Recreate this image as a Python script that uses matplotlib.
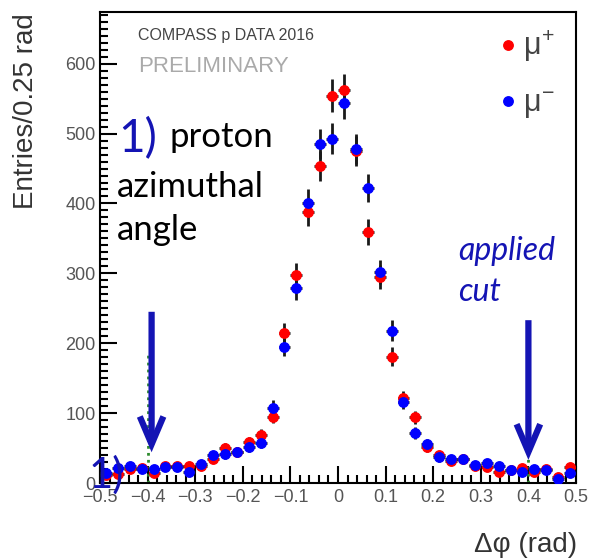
import numpy as np
import matplotlib
matplotlib.use("Agg")
import matplotlib.pyplot as plt
from matplotlib.lines import Line2D
from matplotlib.ticker import MultipleLocator, FuncFormatter

# Histogram of the azimuthal angle difference, 40 bins of 0.025 rad
bin_lo, bin_hi, n_bins = -0.5, 0.5, 40
bin_centers = np.linspace(bin_lo, bin_hi, n_bins + 1)[:-1] + (bin_hi - bin_lo) / n_bins / 2

counts_mu_plus = [11, 13, 19.6, 21, 14.8, 25, 24, 25, 24, 33.8,
                  49.6, 45, 58, 68.7, 95, 214, 298, 387.5, 454, 554,
                  562, 475, 359, 294.5, 181, 121, 94, 51, 40, 31.5,
                  34, 25, 23.4, 16.2, 18.6, 21, 16.2, 19.6, 8, 22.4]
counts_mu_minus = [14, 22, 24.3, 19.6, 19.6, 23.4, 23.4, 16.2, 26.7, 40,
                   41.5, 44.9, 51, 57.7, 108, 195, 279, 401, 485, 492.5,
                   543.6, 477.7, 422, 301.6, 218, 116, 72, 55.8, 36.8, 33.9,
                   34.4, 25.3, 28.2, 24.3, 18.6, 16.2, 19.6, 18.6, 5.7, 13.8]

cut_edges = [-0.4, 0.4]
x_ticks = [-0.5, -0.4, -0.3, -0.2, -0.1, 0, 0.1, 0.2, 0.3, 0.4, 0.5]
y_ticks = [0, 100, 200, 300, 400, 500, 600]

BLUE = "#1414b4"
SANS = ["Liberation Sans", "DejaVu Sans"]
NOTE = ["Lato", "DejaVu Sans"]

plt.rcParams["font.family"] = SANS
plt.rcParams["mathtext.fontset"] = "custom"
plt.rcParams["mathtext.rm"] = "Liberation Sans"
plt.rcParams["mathtext.it"] = "Liberation Sans"

fig = plt.figure(figsize=(5.90, 5.59), dpi=100)
W, H = 590, 559
ax = fig.add_axes([100 / W, 1 - 483 / H, 476 / W, 471 / H])
ax.set_xlim(bin_lo, bin_hi)
ax.set_ylim(0, 674)


def ax_frac(px, py):
    """Pixel position in the figure to axes fraction."""
    return (px - 100) / 476, (483 - py) / 471


half_bin = (bin_hi - bin_lo) / n_bins / 2
for counts, col in [(counts_mu_plus, "#ff0000"), (counts_mu_minus, "#0000ff")]:
    c = np.asarray(counts, dtype=float)
    ax.errorbar(bin_centers, c, xerr=half_bin, yerr=np.sqrt(c), fmt="o",
                color=col, ms=6.8, mec=col, ecolor="#1a1a1a",
                elinewidth=2.0, capsize=0, zorder=3)

# cut positions
for xc in cut_edges:
    ax.vlines(xc, 0, 183, colors="#2e8b2e", linestyles=(0, (1, 1.5)), lw=2, zorder=2)

# axes styling
for s in ax.spines.values():
    s.set_linewidth(1.5)
    s.set_color("black")
ax.xaxis.set_minor_locator(MultipleLocator(0.02))
ax.yaxis.set_minor_locator(MultipleLocator(10))
ax.set_xticks(x_ticks)
ax.set_yticks(y_ticks)
ax.xaxis.set_major_formatter(FuncFormatter(
    lambda v, p: "0" if abs(v) < 1e-9 else f"{v:.1f}".replace("-", "\u2212")))
ax.tick_params(which="both", direction="in", top=False, right=False,
               colors="black", labelcolor="#555555", labelsize=13, width=1.5)
ax.tick_params(which="major", length=12)
ax.tick_params(which="minor", length=6)
ax.tick_params(axis="x", pad=4)
ax.tick_params(axis="y", pad=3)

fig.text(26 / W, 1 - 13 / H, "Entries/0.25 rad", rotation=90, ha="center",
         va="top", fontsize=20, color="#333333")
fig.text(577 / W, 1 - 545 / H, "\u0394\u03c6 (rad)", ha="right", va="center",
         fontsize=20, color="#333333")

# experiment labels
ax.text(*ax_frac(138, 40), "COMPASS p DATA 2016", transform=ax.transAxes,
        fontsize=11.5, color="#444444", va="baseline")
ax.text(*ax_frac(138, 72), "PRELIMINARY", transform=ax.transAxes,
        fontsize=16, color="#aaaaaa", va="baseline")

# legend
handles = [Line2D([], [], marker="o", color="#ff0000", ls="none", ms=6.8),
           Line2D([], [], marker="o", color="#0000ff", ls="none", ms=6.8)]
leg = ax.legend(handles, [r"$\mu^{+}$", r"$\mu^{-}$"], loc="upper left",
                bbox_to_anchor=ax_frac(499, 29),
                frameon=False, fontsize=22, labelspacing=0.8,
                handlelength=0.6, handletextpad=0.2, borderaxespad=0,
                borderpad=0)
for t in leg.get_texts():
    t.set_color("#444444")

# annotations
ax.text(*ax_frac(118, 152), "1)", transform=ax.transAxes,
        fontsize=33, color=BLUE, family=NOTE, va="baseline")
ax.text(*ax_frac(170, 147), "proton", transform=ax.transAxes,
        fontsize=25, color="black", family=NOTE, va="baseline")
ax.text(*ax_frac(117, 197), "azimuthal", transform=ax.transAxes,
        fontsize=25, color="black", family=NOTE, va="baseline")
ax.text(*ax_frac(117, 240), "angle", transform=ax.transAxes,
        fontsize=25, color="black", family=NOTE, va="baseline")
ax.text(*ax_frac(458, 260), "applied", transform=ax.transAxes,
        fontsize=23, color=BLUE, family=NOTE, style="italic", va="baseline")
ax.text(*ax_frac(458, 301), "cut", transform=ax.transAxes,
        fontsize=23, color=BLUE, family=NOTE, style="italic", va="baseline")
fig.text(89 / W, 1 - 488 / H, "1)", fontsize=30, color=BLUE, family=NOTE,
         va="baseline", zorder=10)

# cut arrows
arrow_style = "->,head_length=20,head_width=8.5"
for x0, y_from, y_to in [(-0.3916, 245, 44), (0.4, 233, 33)]:
    ax.annotate("", xy=(x0, y_to), xytext=(x0, y_from),
                arrowprops=dict(arrowstyle=arrow_style, color=BLUE, lw=4.5,
                                mutation_scale=1, shrinkA=0, shrinkB=0,
                                joinstyle="miter", capstyle="butt"),
                zorder=5)

fig.savefig("out.png", dpi=100)
